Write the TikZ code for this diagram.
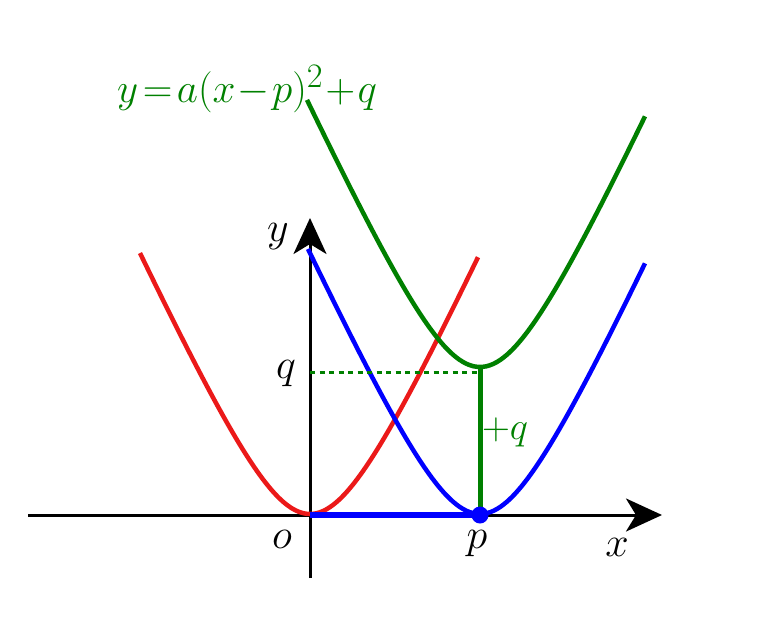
\documentclass[tikz,border=0pt]{standalone}
\usetikzlibrary{arrows.meta}
\definecolor{pgreen}{RGB}{0,128,0}
\definecolor{pred}{RGB}{235,25,25}
\definecolor{pblue}{RGB}{0,0,255}
\begin{document}
\begin{tikzpicture}[x=1pt,y=-1pt,
  axis/.style={line width=3pt,-{Stealth[length=36pt,width=33pt,inset=10pt]}},
  curve/.style={line width=4.5pt,line join=round},
  axlabel/.style={font=\Huge,scale=1.69,inner sep=0pt},
  glabel/.style={font=\Huge,scale=1.45,inner sep=0pt,text=pgreen}]
\useasboundingbox (0,0) rectangle (761,625);
% axes
\coordinate (xs) at (28,515);
\coordinate (xe) at (662,515);
\coordinate (ys) at (310,578);
\coordinate (ye) at (310,218);
\draw[axis] (xs) -- (xe);
\draw[axis] (ys) -- (ye);
% vertices
\coordinate (O) at (310,515);
\coordinate (P) at (480,515);
\coordinate (V) at (480,368);
\coordinate (Oc) at (310,514);
\coordinate (Pc) at (480,514);
\coordinate (Vc) at (480,367);
% curves
\draw[curve,pred,shift={(Oc)}] plot[smooth,samples=50,domain=-170:168] (\x,{-136*(sqrt(1+(\x/62)^2)-1)});
\draw[curve,pblue,shift={(Pc)}] plot[smooth,samples=50,domain=-172:165] (\x,{-136*(sqrt(1+(\x/62)^2)-1)});
\draw[curve,pgreen,shift={(Vc)}] plot[smooth,samples=50,domain=-173:165] (\x,{-136*(sqrt(1+(\x/62)^2)-1)});
% q level
\coordinate (Q) at (310,372);
\coordinate (Qe) at (480,372);
\draw[pgreen,line width=3pt,dash pattern=on 5pt off 4.5pt] (Q) -- (Qe);
\draw[pblue,line width=6pt] (O) -- (P);
\draw[pgreen,line width=5pt] (P) -- (V);
\fill[pblue] (P) circle (8.5pt);
% labels
\node[axlabel] (ly) at (278,237) {$y$};
\node[axlabel] (lx) at (617,547) {$x$};
\node[axlabel] (lo) at (282,539) {$o$};
\node[axlabel] (lp) at (477,544) {$p$};
\node[axlabel] (lq) at (286,374) {$q$};
\node[glabel,scale=1.07] (lpq) at (505,432) {$+q$};
\node[glabel,scale=1.14] (lf) at (247,89) {$y\!=\!a(x\!-\!p)^2\!+\!q$};
\end{tikzpicture}
\end{document}
